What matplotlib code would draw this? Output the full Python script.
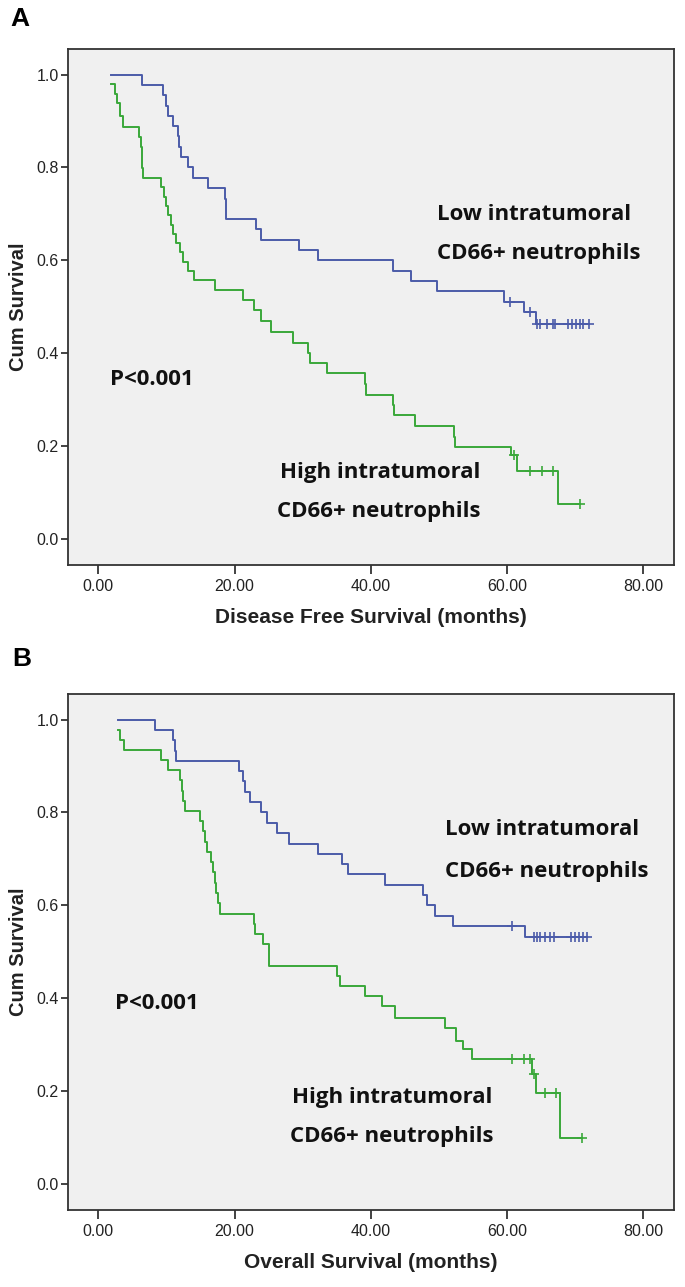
import matplotlib
matplotlib.use("Agg")
import matplotlib.pyplot as plt

# ---- Panel A: disease free survival ----
a_low_start = (1.8, 1.0)
a_low_t = [6.4, 9.55, 9.9, 10.3, 11.0, 11.75, 11.9, 12.2, 13.2, 13.95, 16.15,
           18.6, 18.7, 18.8, 23.1, 23.9, 29.4, 32.3, 43.2, 45.9, 49.7, 59.6,
           62.5, 64.3]
a_low_s = [0.978, 0.956, 0.933, 0.911, 0.889, 0.867, 0.844, 0.822, 0.800,
           0.778, 0.756, 0.733, 0.711, 0.689, 0.667, 0.644, 0.622, 0.600,
           0.578, 0.556, 0.533, 0.511, 0.488, 0.462]
a_low_end = 72.0
a_low_cens_t = [60.4, 63.4, 64.4, 64.8, 65.8, 66.7, 67.1, 69.0, 69.5, 70.1, 70.7, 71.2, 72.0]
a_low_cens_s = [0.511, 0.488, 0.462, 0.462, 0.462, 0.462, 0.462, 0.462, 0.462,
                0.462, 0.462, 0.462, 0.462]

a_high_start = (1.8, 0.98)
a_high_t = [2.45, 2.8, 3.2, 3.6, 6.0, 6.2, 6.35, 6.45, 6.55, 9.2, 9.6, 9.9,
            10.3, 10.6, 11.0, 11.4, 12.0, 12.4, 13.2, 14.0, 17.1, 21.2, 22.9,
            23.9, 25.4, 28.6, 30.8, 31.1, 33.5, 39.2, 39.3, 43.3, 43.4, 46.5,
            52.2, 52.4, 60.6, 61.5, 67.4]
a_high_s = [0.959, 0.938, 0.91, 0.888, 0.866, 0.843, 0.82, 0.798, 0.777,
            0.757, 0.737, 0.717, 0.697, 0.677, 0.657, 0.637, 0.617, 0.597,
            0.577, 0.557, 0.535, 0.515, 0.494, 0.47, 0.445, 0.423, 0.40,
            0.378, 0.357, 0.333, 0.31, 0.288, 0.267, 0.243, 0.22, 0.197,
            0.18, 0.147, 0.075]
a_high_end = 70.7
a_high_cens_t = [61.0, 63.4, 65.1, 66.8, 70.7]
a_high_cens_s = [0.18, 0.147, 0.147, 0.147, 0.075]

# ---- Panel B: overall survival ----
b_low_start = (2.94, 1.0)
b_low_t = [8.3, 11.0, 11.2, 11.4, 20.6, 21.3, 21.6, 22.3, 23.9, 24.7, 26.2,
           28.0, 32.3, 35.7, 36.7, 42.1, 47.7, 48.2, 49.4, 52.1, 62.7]
b_low_s = [0.978, 0.956, 0.933, 0.911, 0.889, 0.867, 0.844, 0.822, 0.800,
           0.778, 0.756, 0.733, 0.711, 0.689, 0.667, 0.644, 0.622, 0.600,
           0.578, 0.556, 0.532]
b_low_end = 71.8
b_low_cens_t = [60.7, 63.9, 64.4, 64.9, 65.5, 66.3, 66.9, 69.4, 69.9, 70.5, 71.1, 71.8]
b_low_cens_s = [0.556, 0.532, 0.532, 0.532, 0.532, 0.532, 0.532, 0.532, 0.532,
                0.532, 0.532, 0.532]

b_high_start = (2.94, 0.978)
b_high_t = [3.2, 3.7, 9.2, 10.3, 12.0, 12.3, 12.5, 12.7, 14.9, 15.3, 15.6,
            15.9, 16.6, 16.9, 17.1, 17.3, 17.6, 17.9, 22.8, 23.0, 24.2, 25.0,
            25.1, 35.0, 35.5, 39.2, 41.6, 43.6, 50.9, 52.5, 53.6, 54.8, 63.7,
            64.3, 67.7]
b_high_s = [0.957, 0.935, 0.913, 0.891, 0.869, 0.847, 0.825, 0.803, 0.781,
            0.759, 0.737, 0.715, 0.693, 0.671, 0.649, 0.627, 0.604, 0.582,
            0.56, 0.538, 0.516, 0.494, 0.469, 0.447, 0.426, 0.404, 0.383,
            0.358, 0.336, 0.307, 0.29, 0.268, 0.236, 0.196, 0.099]
b_high_end = 71.0
b_high_cens_t = [60.7, 62.5, 63.3, 63.9, 65.5, 67.2, 71.0]
b_high_cens_s = [0.268, 0.268, 0.268, 0.236, 0.196, 0.196, 0.099]

y_ticks = [0.0, 0.2, 0.4, 0.6, 0.8, 1.0]
x_ticks = [0, 20, 40, 60, 80]

BLUE = "#4b5ba9"
GREEN = "#3aa83a"
BG = "#f0f0f0"


def km_line(ax, start, t, s, end, ct, cs, color):
    xs = [start[0]] + t + [end]
    ys = [start[1]] + s + [s[-1]]
    ax.step(xs, ys, where="post", color=color, lw=1.4)
    ax.plot(ct, cs, ls="none", marker="+", ms=7, mew=1.2, color=color)


def setup(ax, xlabel):
    ax.set_facecolor(BG)
    ax.set_xlim(-4.45, 84.5)
    ax.set_ylim(-0.055, 1.055)
    ax.set_xticks(x_ticks)
    ax.set_xticklabels([f"{v:.2f}" for v in x_ticks])
    ax.set_yticks(y_ticks)
    ax.set_yticklabels([f"{v:.1f}" for v in y_ticks])
    ax.tick_params(axis="x", length=6.5, width=1.2, pad=4, labelsize=11.5, colors="#222222")
    ax.tick_params(axis="y", length=5, width=1.2, pad=1.5, labelsize=11.5, colors="#222222")
    for sp in ax.spines.values():
        sp.set_color("#333333")
        sp.set_linewidth(1.3)
    ax.set_xlabel(xlabel, fontsize=15, fontweight="bold", labelpad=10, color="#222222")
    ax.set_ylabel("Cum Survival", fontsize=14.5, fontweight="bold", labelpad=6, color="#222222")


plt.rcParams["font.family"] = ["Liberation Sans", "DejaVu Sans"]
fig = plt.figure(figsize=(6.85, 12.87), dpi=100)
axA = fig.add_axes([68 / 685, 1 - 564.5 / 1287, 606 / 685, 515.5 / 1287])
axB = fig.add_axes([68 / 685, 1 - 1209.5 / 1287, 606 / 685, 515.5 / 1287])

setup(axA, "Disease Free Survival (months)")
km_line(axA, a_low_start, a_low_t, a_low_s, a_low_end, a_low_cens_t, a_low_cens_s, BLUE)
km_line(axA, a_high_start, a_high_t, a_high_s, a_high_end, a_high_cens_t, a_high_cens_s, GREEN)

setup(axB, "Overall Survival (months)")
km_line(axB, b_low_start, b_low_t, b_low_s, b_low_end, b_low_cens_t, b_low_cens_s, BLUE)
km_line(axB, b_high_start, b_high_t, b_high_s, b_high_end, b_high_cens_t, b_high_cens_s, GREEN)

note = dict(fontsize=16, fontweight="bold", family=["Open Sans", "DejaVu Sans"],
            color="#111111", va="center", ha="left")
axA.text(49.7, 0.698, "Low intratumoral", **note)
axA.text(49.7, 0.615, "CD66+ neutrophils", **note)
axA.text(26.6, 0.144, "High intratumoral", **note)
axA.text(26.3, 0.059, "CD66+ neutrophils", **note)
axA.text(1.7, 0.344, "P<0.001", **note)

axB.text(50.9, 0.763, "Low intratumoral", **note)
axB.text(50.9, 0.673, "CD66+ neutrophils", **note)
axB.text(28.4, 0.186, "High intratumoral", **note)
axB.text(28.1, 0.103, "CD66+ neutrophils", **note)
axB.text(2.4, 0.389, "P<0.001", **note)

fig.text(20 / 685, 1 - 19 / 1287, "A", fontsize=19, fontweight="bold", ha="center", va="center")
fig.text(22 / 685, 1 - 659 / 1287, "B", fontsize=19, fontweight="bold", ha="center", va="center")

fig.savefig("out.png", dpi=100, facecolor="white")
